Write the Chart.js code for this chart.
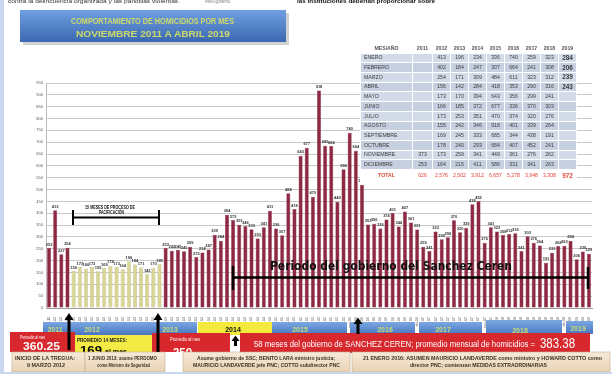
<!DOCTYPE html>
<html>
<head>
<meta charset="utf-8">
<script src="https://cdn.jsdelivr.net/npm/chart.js@4.4.1/dist/chart.umd.min.js"></script>
<style>
    html, body { margin: 0; padding: 0; background: #fff; }
    #wrap { position: relative; width: 612px; height: 374px; overflow: hidden; font-family: 'Liberation Sans', Arial, sans-serif; }
    #grafico { position: absolute; left: 0; top: 0; }
    #capa { position: absolute; left: 0; top: 0; }
    #tabla { position: absolute; left: 360px; top: 43px; width: 217px; border-collapse: collapse; table-layout: fixed;
             font-family: 'Liberation Sans Narrow', 'Liberation Sans', sans-serif; font-size: 5.2px; color: #3a3a3a; }
    #tabla td { padding: 0; height: 8.7px; border: 1px solid #fff; background: #c7d0e1; text-align: center; line-height: 1; }
    #tabla tr:nth-child(even) td { background: #d3dae8; }
    #tabla td.mes { text-align: left; padding-left: 3px; }
    #tabla tr.cab td { background: #fff; color: #555; font-weight: bold; }
    #tabla tr.tot td { background: #fff; color: #e0453a; height: 12px; }
    #tabla td.y19 { font-size: 6.4px; font-weight: bold; }
    #marco { position: absolute; left: 0; top: 0; width: 4px; height: 374px; background: #c9d7ee; }
</style>
</head>
<body>
<div id="wrap">
    <canvas id="grafico" width="612" height="374"></canvas>
    <table id="tabla">
        <colgroup><col style="width:52px"><col style="width:20px"><col><col><col><col><col><col><col><col></colgroup>
        <tbody id="tablaCuerpo"></tbody>
    </table>
    <div id="marco"></div>
    <svg id="capa" width="612" height="374" xmlns="http://www.w3.org/2000/svg" font-family="'Liberation Sans', Arial, sans-serif">
        <defs>
            <linearGradient id="gTitulo" x1="0" y1="0" x2="0" y2="1"><stop offset="0" stop-color="#6fa0e2"/><stop offset="1" stop-color="#3b68b0"/></linearGradient>
            <linearGradient id="gAnio" x1="0" y1="0" x2="0" y2="1"><stop offset="0" stop-color="#7ba8e2"/><stop offset="1" stop-color="#4775c0"/></linearGradient>
            <linearGradient id="gBeige" x1="0" y1="0" x2="0" y2="1"><stop offset="0" stop-color="#f7ead9"/><stop offset="1" stop-color="#e8d2b4"/></linearGradient>
        </defs>

        <!-- restos de texto de la diapositiva anterior -->
        <text x="8" y="3" font-size="6" fill="#333" textLength="172" lengthAdjust="spacingAndGlyphs">contra la delincuencia organizada y las pandillas violentas.</text>
        <text x="205" y="3" font-size="6" fill="#777" textLength="26" lengthAdjust="spacingAndGlyphs">Pleno gobierno.</text>
        <text x="297" y="3" font-size="6" font-weight="bold" fill="#111" textLength="138" lengthAdjust="spacingAndGlyphs">las instituciones deberían proporcionar sobre</text>

        <!-- titulo -->
        <rect x="23" y="13" width="266" height="32" fill="#9a9a9a" opacity="0.45"/>
        <rect x="20" y="10" width="266" height="32" fill="url(#gTitulo)"/>
        <text x="71" y="24" font-size="9.5" font-weight="bold" fill="#cfd96a" textLength="163" lengthAdjust="spacingAndGlyphs">COMPORTAMIENTO DE HOMICIDIOS POR MES</text>
        <text x="76" y="37" font-size="9.5" font-weight="bold" fill="#cfd96a" textLength="154" lengthAdjust="spacingAndGlyphs">NOVIEMBRE  2011  A  ABRIL 2019</text>

        <!-- anotaciones dentro del grafico -->
        <text x="85" y="208.5" font-size="4.6" font-weight="bold" fill="#111" textLength="50" lengthAdjust="spacingAndGlyphs">15 MESES DE PROCESO DE</text>
        <text x="99" y="214" font-size="4.6" font-weight="bold" fill="#111" textLength="25" lengthAdjust="spacingAndGlyphs">PACIFICACIÓN</text>
        <path d="M73,210 V225 M73,217.5 H159 M159,210 V225" stroke="#000" stroke-width="2" fill="none"/>

        <text x="270" y="270" font-family="'DejaVu Sans', sans-serif" font-size="12.5" font-weight="900" fill="#111" textLength="242" lengthAdjust="spacingAndGlyphs">Periodo del gobierno del Sanchez Ceren</text>
        <path d="M233,266 V290 M233,277.5 H588 M588,267 V289" stroke="#000" stroke-width="2.5" fill="none"/>

        <!-- franjas de años -->
        <rect x="43" y="322" width="80" height="13" fill="url(#gAnio)"/>
        <rect x="123" y="322" width="74" height="13" fill="url(#gAnio)"/>
        <rect x="198" y="322" width="74" height="13" fill="#f4ea3c"/>
        <rect x="272" y="322" width="75" height="13" fill="url(#gAnio)"/>
        <rect x="350" y="322" width="65" height="13" fill="url(#gAnio)"/>
        <rect x="419" y="322" width="63" height="13" fill="url(#gAnio)"/>
        <rect x="486" y="320" width="76" height="16" fill="url(#gAnio)"/>
        <rect x="566" y="321" width="27" height="13" fill="url(#gAnio)"/>
        <g font-size="7" font-weight="bold" fill="#c9dc74" text-anchor="middle">
            <text x="55" y="332">2011</text>
            <text x="92" y="332">2012</text>
            <text x="170" y="332">2013</text>
            <text x="233" y="332" fill="#111">2014</text>
            <text x="300" y="332">2015</text>
            <text x="385" y="332">2016</text>
            <text x="443" y="332">2017</text>
            <text x="520" y="333">2018</text>
            <text x="578" y="331">2019</text>
        </g>

        <!-- recuadros de promedios -->
        <rect x="10" y="332" width="65" height="20" fill="#d6282d"/>
        <text x="20" y="338.5" font-size="4.6" fill="#fff" textLength="25" lengthAdjust="spacingAndGlyphs">Promedio al mes</text>
        <text x="23" y="350" font-size="11" font-weight="bold" fill="#fff" textLength="37" lengthAdjust="spacingAndGlyphs">360.25</text>

        <rect x="75" y="335" width="77" height="19" fill="#f3ea44"/>
        <text x="77" y="341.5" font-size="6" font-weight="bold" fill="#222" textLength="50" lengthAdjust="spacingAndGlyphs">PROMEDIO 14 MESES:</text>
        <text x="80" y="353.5" font-size="11" font-weight="bold" fill="#000" textLength="22" lengthAdjust="spacingAndGlyphs">169</text>
        <text x="105" y="353.5" font-size="8" font-weight="bold" fill="#000" textLength="22" lengthAdjust="spacingAndGlyphs">al mes</text>

        <rect x="152" y="333" width="78" height="19" fill="#d6282d"/>
        <text x="170" y="341" font-size="5.6" fill="#fff" textLength="30" lengthAdjust="spacingAndGlyphs">Promedio al mes</text>
        <text x="173" y="356" font-size="10" font-weight="bold" fill="#fff" textLength="19" lengthAdjust="spacingAndGlyphs">250</text>

        <rect x="240" y="333" width="350" height="20" fill="#d6282d"/>
        <text x="254" y="347" font-size="8.5" fill="#fff" textLength="281" lengthAdjust="spacingAndGlyphs">58 meses del gobierno de SANCHEZ CEREN; promedio mensual de homicidios =</text>
        <text x="540" y="347.5" font-size="15" fill="#fff" textLength="35" lengthAdjust="spacingAndGlyphs">383.38</text>

        <!-- recuadros de eventos -->
        <g fill="url(#gBeige)" stroke="#c4ad8d" stroke-width="0.6">
            <rect x="12" y="352" width="73" height="20"/>
            <rect x="85" y="352" width="80" height="20"/>
            <rect x="183" y="352" width="167" height="20"/>
            <rect x="352" y="352" width="258" height="20"/>
        </g>
        <g font-size="4.8" font-weight="bold" fill="#3b3226">
            <text x="15" y="359.5" textLength="60" lengthAdjust="spacingAndGlyphs">INICIO DE LA TREGUA:</text>
            <text x="27" y="367" textLength="38" lengthAdjust="spacingAndGlyphs">9 MARZO 2012</text>
            <text x="88" y="359.5" textLength="69" lengthAdjust="spacingAndGlyphs">1 JUNIO 2013: asume PERDOMO</text>
            <text x="97" y="367" textLength="53" lengthAdjust="spacingAndGlyphs">como Ministro de Seguridad</text>
            <text x="197" y="359.5" textLength="138" lengthAdjust="spacingAndGlyphs">Asume gobierno de SSC; BENITO LARA ministro justicia;</text>
            <text x="193" y="367" textLength="147" lengthAdjust="spacingAndGlyphs">MAURICIO LANDAVERDE jefe PNC; COTTO subdirector PNC</text>
            <text x="363" y="359.5" textLength="239" lengthAdjust="spacingAndGlyphs">21 ENERO 2016: ASUMEN MAURICIO LANDAVERDE como ministro y HOWARD COTTO como</text>
            <text x="410" y="367" textLength="137" lengthAdjust="spacingAndGlyphs">director PNC; comienzan MEDIDAS EXTRAORDINARIAS</text>
        </g>

        <!-- flechas -->
        <g fill="#000">
            <rect x="67.5" y="319" width="3" height="31"/><path d="M64.5,320 L69,313 L73.5,320 Z"/>
            <rect x="156.5" y="319" width="3" height="33"/><path d="M153.5,320 L158,313 L162.5,320 Z"/>
            <rect x="234" y="340" width="3" height="6"/><path d="M231.5,341 L235.5,335.5 L239.5,341 Z"/>
            <rect x="356.5" y="323" width="3" height="11"/><path d="M353.5,324 L358,317.5 L362.5,324 Z"/>
        </g>
        <rect x="0" y="372" width="612" height="2" fill="#c9d7ee"/>
    </svg>
</div>

<script>
const mesesTabla = ['ENERO', 'FEBRERO', 'MARZO', 'ABRIL', 'MAYO', 'JUNIO', 'JULIO', 'AGOSTO', 'SEPTIEMBRE', 'OCTUBRE', 'NOVIEMBRE', 'DICIEMBRE'];
const aniosTabla = ['2011', '2012', '2013', '2014', '2015', '2016', '2017', '2018', '2019'];

const tabla2011 = [null, null, null, null, null, null, null, null, null, null, 373, 253];
const tabla2012 = [413, 402, 254, 156, 173, 166, 173, 155, 169, 178, 173, 164];
const tabla2013 = [196, 184, 171, 142, 170, 185, 253, 242, 245, 240, 259, 215];
const tabla2014 = [234, 247, 309, 284, 394, 372, 351, 346, 333, 293, 341, 411];
const tabla2015 = [336, 307, 484, 418, 643, 677, 470, 918, 685, 684, 449, 586];
const tabla2016 = [740, 664, 611, 353, 356, 336, 374, 401, 344, 407, 361, 331];
const tabla2017 = [259, 241, 323, 290, 299, 370, 320, 339, 438, 452, 276, 341];
const tabla2018 = [323, 308, 312, 316, 241, 303, 276, 264, 191, 241, 262, 263];
const tabla2019 = [284, 206, 239, 243, null, null, null, null, null, null, null, null];
const totales = ['626', '2,576', '2,502', '3,912', '6,657', '5,278', '3,948', '3,308', '972'];

// barras del grafico (dic 2011 - abr 2019)
const mesesCortos = ['ene', 'feb', 'mar', 'abr', 'may', 'jun', 'jul', 'ago', 'sep', 'oct', 'nov', 'dic'];
const barras2011 = [253];
const barras2012 = [413, 227, 254, 156, 173, 166, 173, 155, 169, 178, 173, 164];
const barras2013 = [196, 184, 171, 142, 170, 185, 253, 242, 245, 240, 259, 215];
const barras2014 = [234, 247, 309, 284, 394, 372, 351, 346, 333, 293, 341, 411];
const barras2015 = [336, 307, 484, 418, 643, 677, 470, 918, 685, 684, 449, 586];
const barras2016 = [740, 664, 520, 353, 356, 336, 374, 401, 344, 407, 361, 331];
const barras2017 = [259, 241, 323, 290, 299, 370, 320, 339, 438, 452, 276, 341];
const barras2018 = [323, 308, 312, 316, 241, 303, 276, 264, 191, 233, 262, 263];
const barras2019 = [284, 206, 239, 229];
const inicioTregua = 4, finTregua = 18; // barras amarillas (15 meses)

const GUINDA = '#8e2944';
const AMARILLO = '#d9d597';

// ---- tabla ----
const columnas = [tabla2011, tabla2012, tabla2013, tabla2014, tabla2015, tabla2016, tabla2017, tabla2018, tabla2019];
const cuerpo = document.getElementById('tablaCuerpo');
let html = '<tr class="cab"><td>MES/AÑO</td>' + aniosTabla.map(a => `<td>${a}</td>`).join('') + '</tr>';
mesesTabla.forEach((m, i) => {
    html += `<tr><td class="mes">${m}</td>` + columnas.map((c, j) =>
        `<td${j === 8 ? ' class="y19"' : ''}>${c[i] == null ? '' : c[i]}</td>`).join('') + '</tr>';
});
html += '<tr class="tot"><td style="font-weight:bold">TOTAL</td>' + totales.map((t, j) =>
    `<td${j === 8 ? ' class="y19"' : ''}>${t}</td>`).join('') + '</tr>';
cuerpo.innerHTML = html;

// ---- grafico ----
const seriesAnio = [['11', barras2011], ['12', barras2012], ['13', barras2013], ['14', barras2014], ['15', barras2015],
                    ['16', barras2016], ['17', barras2017], ['18', barras2018], ['19', barras2019]];
const categorias = [];
const valores = [];
seriesAnio.forEach(([a, serie]) => {
    const desde = a === '11' ? 11 : 0;
    serie.forEach((v, k) => { categorias.push(mesesCortos[desde + k] + '-' + a); valores.push(v); });
});

const etiquetasValor = {
    id: 'etiquetasValor',
    afterDatasetsDraw(chart) {
        const { ctx } = chart;
        const meta = chart.getDatasetMeta(0);
        ctx.save();
        ctx.font = 'bold 4px "Liberation Sans", Arial, sans-serif';
        ctx.fillStyle = '#333';
        ctx.textAlign = 'center';
        ctx.textBaseline = 'bottom';
        meta.data.forEach((bar, i) => ctx.fillText(valores[i], bar.x, bar.y - 1.5));
        ctx.restore();
    }
};

new Chart(document.getElementById('grafico'), {
    type: 'bar',
    data: {
        labels: categorias,
        datasets: [{
            data: valores,
            backgroundColor: valores.map((v, i) => i >= inicioTregua && i <= finTregua ? AMARILLO : GUINDA),
            borderColor: valores.map((v, i) => i >= inicioTregua && i <= finTregua ? '#aaa566' : GUINDA),
            borderWidth: 0.5,
            barPercentage: 0.66,
            categoryPercentage: 1
        }]
    },
    options: {
        responsive: false, animation: false, devicePixelRatio: 1,
        layout: { padding: { top: 83, right: 20, left: 0, bottom: 0 } },
        plugins: { legend: { display: false }, tooltip: { enabled: false } },
        scales: {
            x: {
                grid: { display: false },
                border: { color: '#999' },
                ticks: { autoSkip: false, minRotation: 90, maxRotation: 90, color: '#555', padding: 1,
                         font: { size: 3.5, family: "'Liberation Sans', Arial, sans-serif" } },
                afterFit(s) { s.height = 66; }
            },
            y: {
                min: 0, max: 950,
                grid: { color: '#c9c9c9', drawTicks: false },
                border: { display: true, color: '#bbb' },
                ticks: { stepSize: 50, color: '#555', padding: 3, font: { size: 4, family: "'Liberation Sans', Arial, sans-serif" } },
                afterFit(s) { s.width = 46; }
            }
        }
    },
    plugins: [etiquetasValor]
});
</script>
</body>
</html>
